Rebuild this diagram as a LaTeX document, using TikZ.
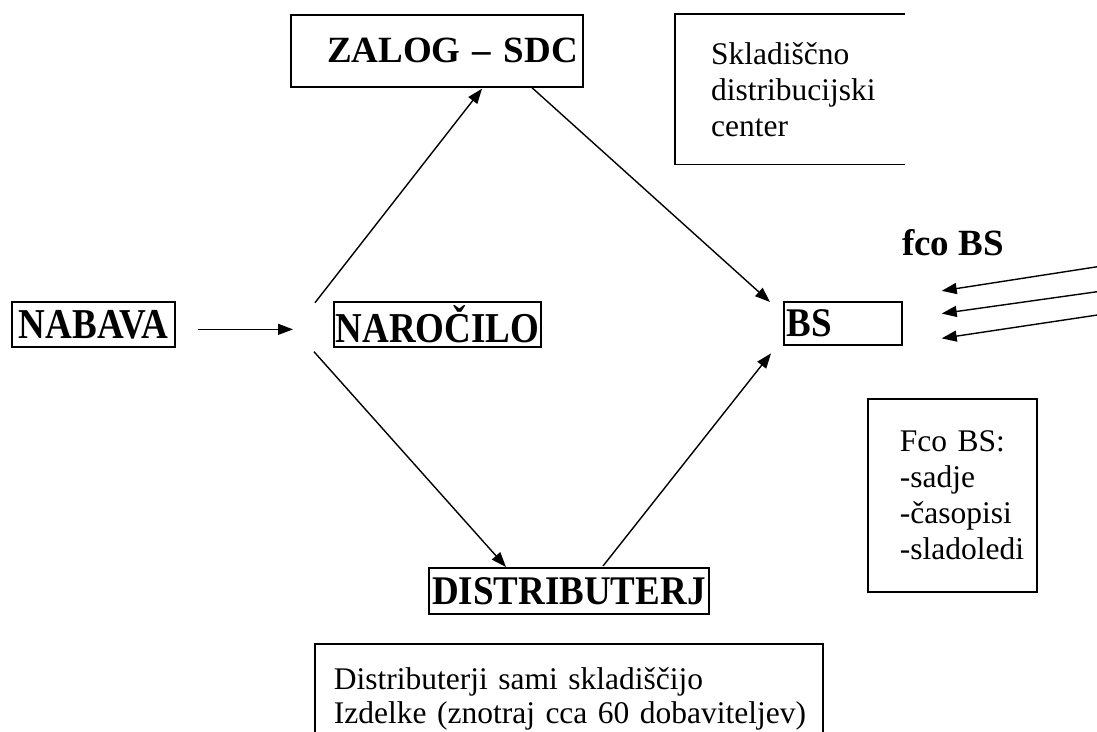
\documentclass[tikz,border=0pt]{standalone}
\usepackage{fontspec}
\setmainfont{Liberation Serif}
\usetikzlibrary{arrows.meta,calc}
\begin{document}
\begin{tikzpicture}[x=1pt,y=-1pt,
  box/.style={draw,line width=1.7pt,rectangle,inner sep=0pt},
  boxline/.style={line width=1.7pt},
  lbl/.style={font=\fontsize{37}{40}\selectfont\bfseries},
  txt/.style={font=\fontsize{31.5}{36}\selectfont},
  arr/.style={line width=1.4pt,-{Triangle[length=15pt,width=11pt]}}]
\clip (0,0) rectangle (1097,731);
\fill[white] (0,0) rectangle (1097,731);
% labelled boxes
\node[box,lbl,anchor=north west,text width=282pt,align=right,inner xsep=5pt,minimum height=72pt] (zalog) at (290,14) {ZALOG – SDC};
\node[box,lbl,anchor=north west,minimum width=163pt,minimum height=45pt] (nabava) at (11,301) {\scalebox{1}[1.15]{NABAVA}};
\node[box,lbl,anchor=north west,minimum width=207pt,minimum height=45pt] (naro) at (333,301) {\scalebox{1}[1.15]{NAROČILO}};
\node[box,lbl,anchor=north west,text width=112pt,align=left,inner xsep=3pt,minimum height=43pt] (bs) at (783,301) {\scalebox{1}[1.1]{BS}};
\node[box,lbl,anchor=north west,minimum width=280pt,minimum height=46pt] (dist) at (428,567) {\scalebox{1}[1.1]{DISTRIBUTERJ}};
\node[lbl,anchor=base west,inner sep=0pt] (fco) at (902,255) {fco BS};
% text boxes
\node[txt,anchor=north west,text width=158pt,align=left,inner xsep=36pt,inner ysep=0pt,minimum height=150pt] (sk) at (675,14)
  {\mbox{Skladiščno}\\\mbox{distribucijski}\\\mbox{center}};
\draw[boxline] (sk.north east) -- (sk.north west) -- (sk.south west) -- (sk.south east);
\node[box,txt,anchor=north west,text width=105pt,align=left,inner xsep=32pt,minimum height=193pt] (fcobox) at (867,398)
  {\mbox{Fco BS:}\\\mbox{-sadje}\\\mbox{-časopisi}\\\mbox{-sladoledi}};
\node[box,txt,anchor=north west,text width=470pt,align=left,inner xsep=19pt,inner ysep=24pt,font=\fontsize{31.5}{34}\selectfont] (distbox) at (314,643)
  {\mbox{Distributerji sami skladiščijo}\\\mbox{Izdelke (znotraj cca 60 dobaviteljev)}};
% free ends
\coordinate (s1) at (1100,266.3);
\coordinate (s2) at (1100,291.3);
\coordinate (s3) at (1100,314.6);
% connectors
\draw[arr] ($(nabava.east)+(22,5)$) -- ($(naro.west)+(-40,5)$);
\draw[arr] ($(naro.north west)+(-18,1.7)$) -- ($(zalog.south west)+(192,1)$);
\draw[arr] ($(zalog.south west)+(242,0)$) -- ($(bs.north west)+(-13,1)$);
\draw[arr] ($(naro.south west)+(-19,4)$) -- ($(dist.north west)+(78,0)$);
\draw[arr] ($(dist.north west)+(175,-1)$) -- ($(bs.south west)+(-12,7.7)$);
\draw[arr] (s1) -- ($(bs.east)+(39,-32.5)$);
\draw[arr] (s2) -- ($(bs.east)+(39,-9.8)$);
\draw[arr] (s3) -- ($(bs.east)+(39,15)$);
\end{tikzpicture}
\end{document}
